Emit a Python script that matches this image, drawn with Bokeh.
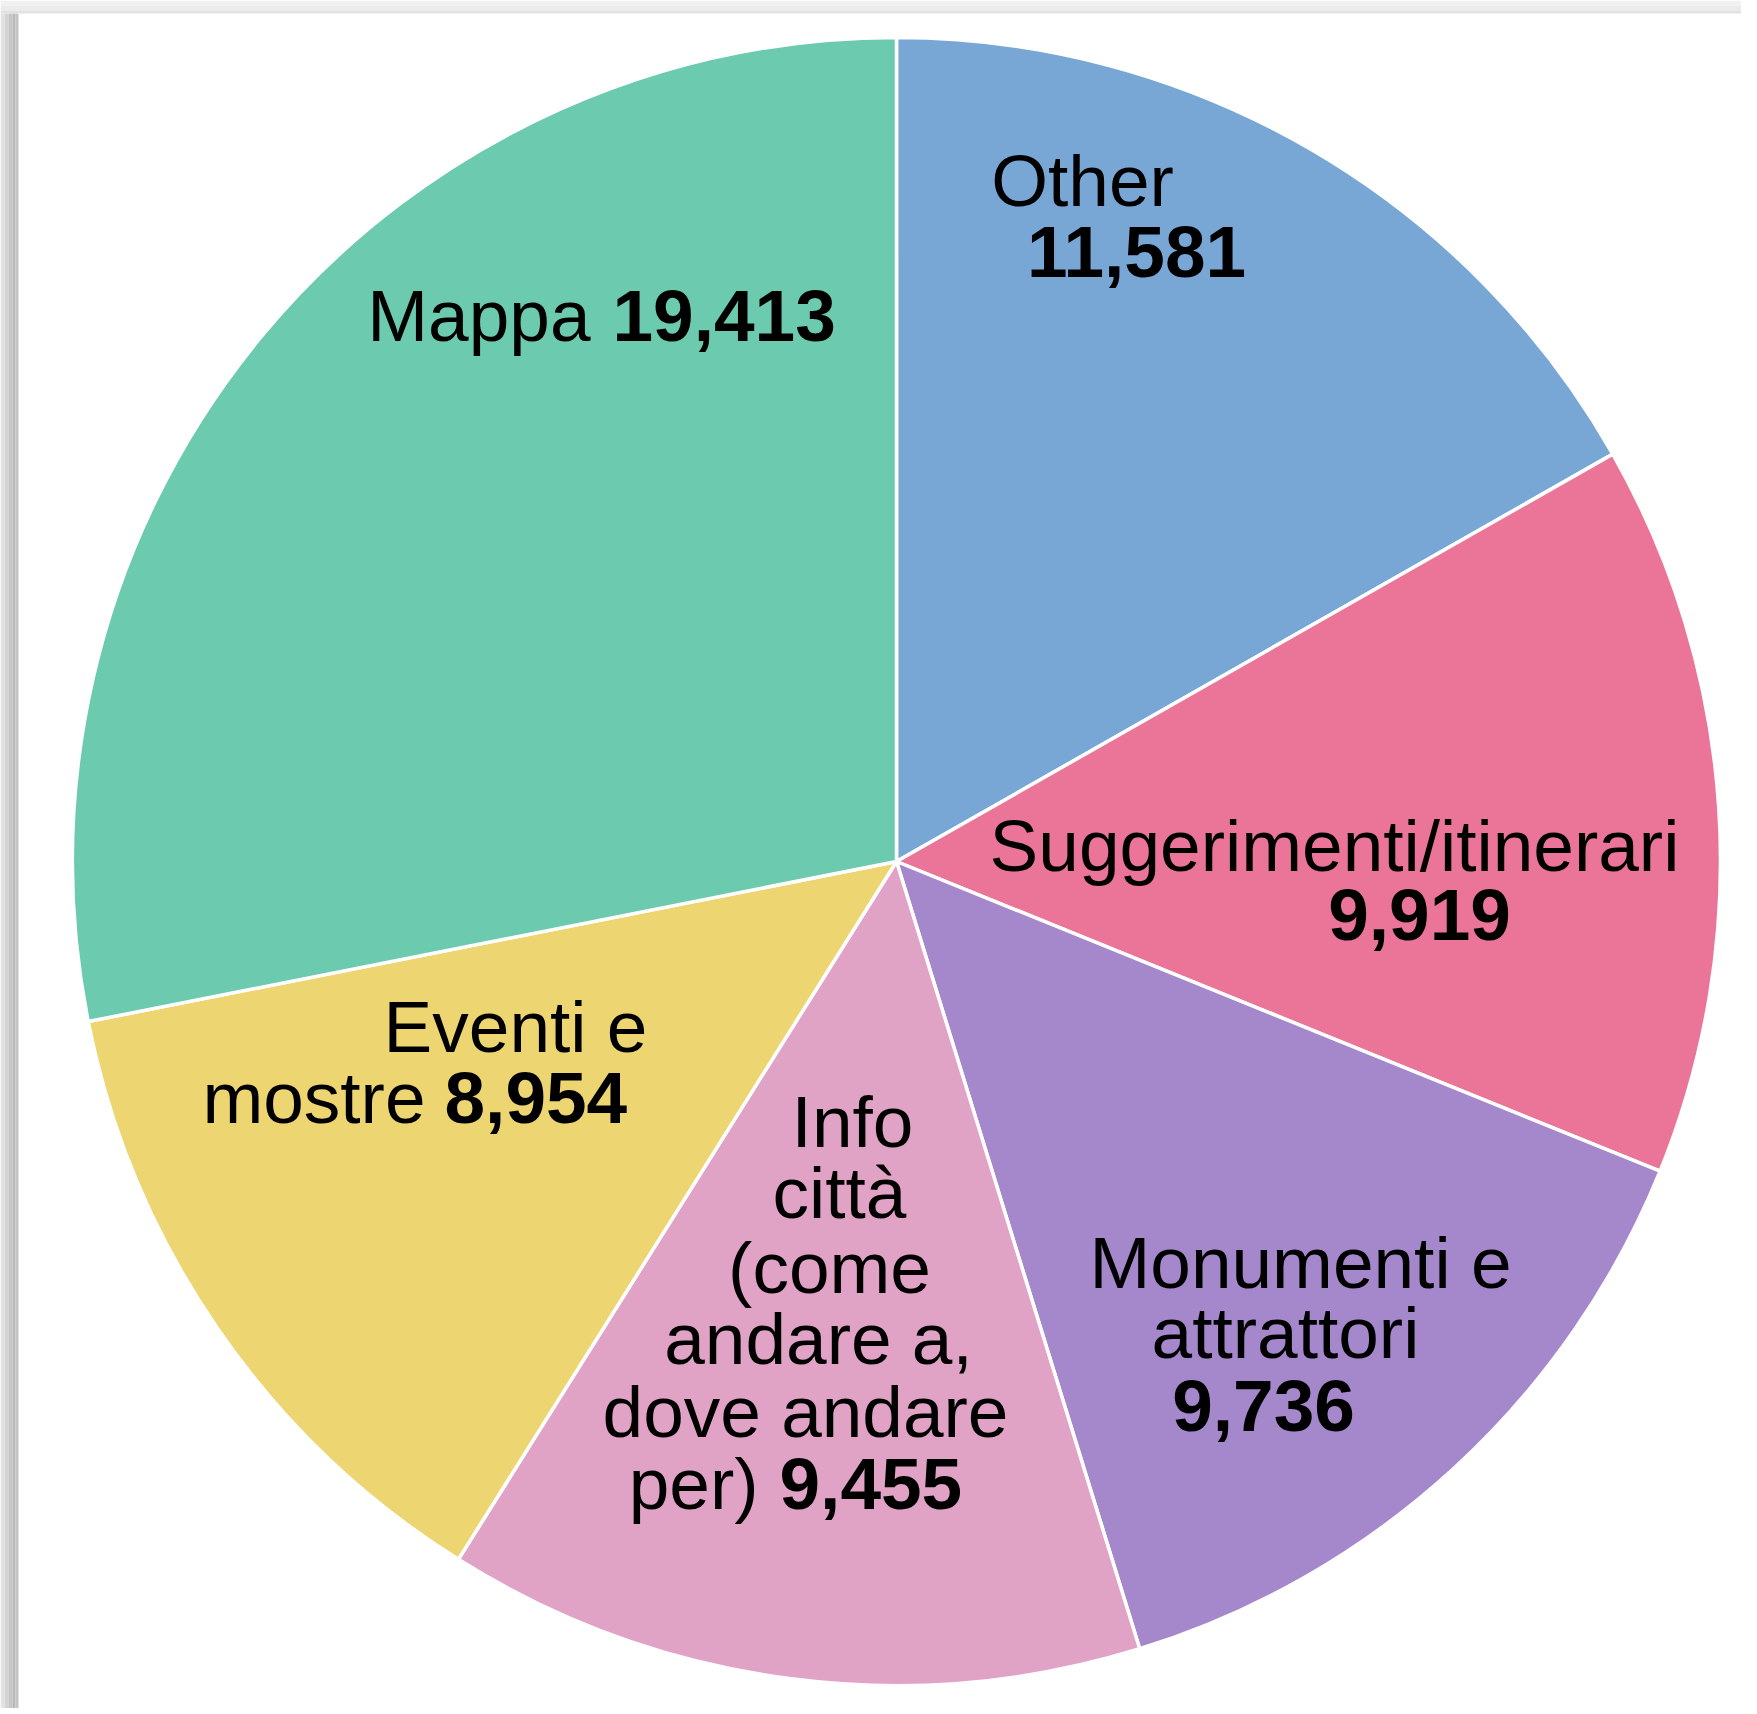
import math
from bokeh.plotting import figure
from bokeh.models import Range1d, ColumnDataSource
from bokeh.embed import file_html
from bokeh.resources import INLINE
from bokeh.core.properties import value

# ---------------- data ----------------
categories = ["Other", "Suggerimenti/itinerari", "Monumenti e attrattori",
              "Info città (come andare a, dove andare per)", "Eventi e mostre", "Mappa"]
counts = [11581, 9919, 9736, 9455, 8954, 19413]
colors = ["#78A7D6", "#EA7598", "#A588CB", "#E0A3C5", "#EDD572", "#6CCAAF"]

# ---------------- layout (pixel space of the page) ----------------
W, H = 1741, 1708
OX, OY = 0, 0          # page offset of the figure
CX, CY, R = 896, 861, 824
FONT = "Liberation Sans"
FSIZE = "73px"
DY = -27               # baseline correction

# label lines per category: (baseline y, [(text or None for value, x, align, bold)])
label_lines = [
    [(207, [("Other", 1082, "center", False)]),
     (278, [(None, 1136, "center", True)])],
    [(872, [("Suggerimenti/itinerari", 1334, "center", False)]),
     (941, [(None, 1419, "center", True)])],
    [(1289, [("Monumenti e", 1300, "center", False)]),
     (1359, [("attrattori", 1285, "center", False)]),
     (1432, [(None, 1263, "center", True)])],
    [(1148, [("Info", 852, "center", False)]),
     (1219, [("città", 839, "center", False)]),
     (1294, [("(come", 829, "center", False)]),
     (1365, [("andare a,", 818, "center", False)]),
     (1438, [("dove andare", 805, "center", False)]),
     (1510, [("per)", 758, "right", False), (None, 779, "left", True)])],
    [(1053, [("Eventi e", 515, "center", False)]),
     (1124, [("mostre", 425, "right", False), (None, 444, "left", True)])],
    [(342, [("Mappa", 590, "right", False), (None, 612, "left", True)])],
]

p = figure(width=W, height=H, output_backend="svg", toolbar_location=None,
           x_range=Range1d(OX, OX + W), y_range=Range1d(-(OY + H), -OY),
           x_axis_type=None, y_axis_type=None, min_border=0,
           background_fill_color="white", border_fill_color="white")
p.grid.visible = False
p.outline_line_color = None

# frame shadow (decor)
p.quad(left=[0, 4, 8, 12, 15], right=[4, 8, 12, 15, 18],
       top=[-13] * 5, bottom=[-(OY + H)] * 5,
       color=["#e2e2e2", "#d4d4d4", "#c6c6c6", "#b9b9b9", "#c4c4c4"], line_color=None)
p.quad(left=[0, 0, 0], right=[OX + W] * 3, top=[0, -5, -10], bottom=[-5, -10, -13],
       color=["#f1f1f1", "#ebebeb", "#e2e2e2"], line_color=None)

# wedges
total = sum(counts)
starts, ends = [], []
acc = 0.0
for c in counts:
    starts.append(math.pi / 2 - 2 * math.pi * acc / total)
    acc += c
    ends.append(math.pi / 2 - 2 * math.pi * acc / total)

src = ColumnDataSource(dict(start=starts, end=ends, color=colors, cat=categories, n=counts))
p.wedge(x=CX, y=-CY, radius=R, start_angle="start", end_angle="end", direction="clock",
        fill_color="color", line_color="white", line_width=3.5, source=src)

# labels
groups = {}
for cnt, lines in zip(counts, label_lines):
    for y, segs in lines:
        for txt, x, align, bold in segs:
            t = f"{cnt:,}" if txt is None else txt
            key = (align, bold)
            g = groups.setdefault(key, dict(x=[], y=[], text=[]))
            g["x"].append(x)
            g["y"].append(-(y + DY))
            g["text"].append(t)

for (align, bold), g in groups.items():
    p.text(x="x", y="y", text="text", source=ColumnDataSource(g),
           text_align=align, text_baseline="alphabetic",
           text_font=value(FONT), text_font_size=value(FSIZE),
           text_font_style="bold" if bold else "normal", text_color="#000000")

open("out.html", "w").write(file_html(p, INLINE))
